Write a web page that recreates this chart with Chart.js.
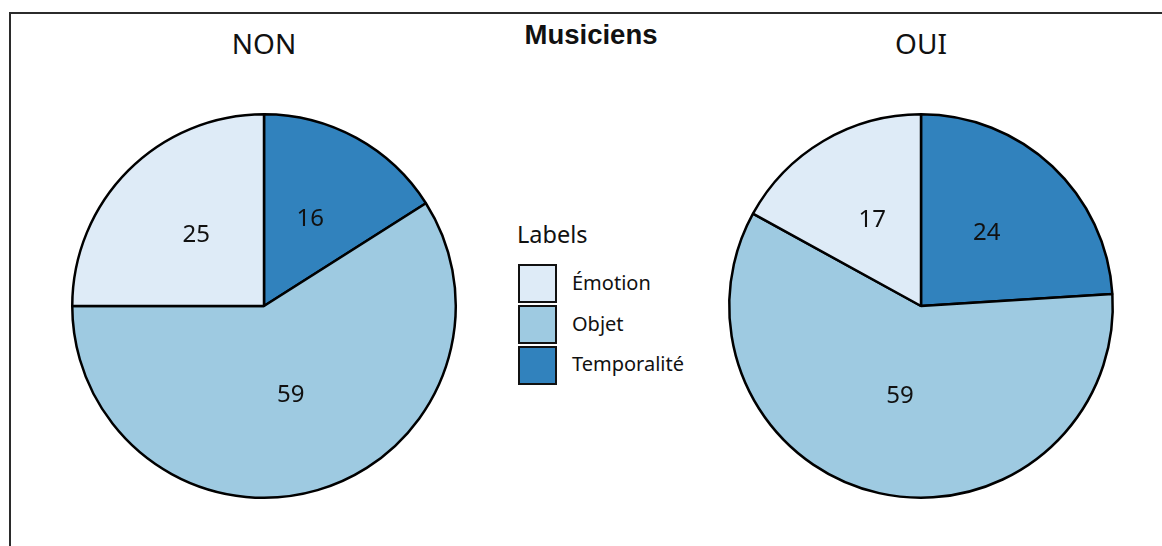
<!DOCTYPE html>
<html>
<head>
<meta charset="utf-8">
<script src="https://cdn.jsdelivr.net/npm/chart.js@4.4.1/dist/chart.umd.min.js"></script>
<style>
  html, body { margin:0; padding:0; background:#fff; width:1162px; height:546px; overflow:hidden; }
  #frame { position:absolute; left:9px; top:12px; width:1170px; height:560px; border-top:2px solid #2b2b2b; border-left:2px solid #2b2b2b; }
  .cv { position:absolute; }
  .txt { position:absolute; color:#111; font-family:"Noto Sans", sans-serif; white-space:nowrap; }
  #title { font-family:"Liberation Sans", Arial, sans-serif; font-weight:bold; font-size:27.5px; left:591px; top:35px; transform:translate(-50%,-50%); }
  .panel { font-size:28px; top:43px; transform:translate(-50%,-50%); }
  #legTitle { font-size:23.5px; left:517px; top:234px; transform:translateY(-50%); }
  .swatch { position:absolute; width:35px; height:35px; border:2.5px solid #111; }
  .legLab { font-size:20px; transform:translateY(-50%); }
</style>
</head>
<body>
<div id="frame"></div>
<div id="title" class="txt">Musiciens</div>
<canvas id="c0" class="cv"></canvas>
<canvas id="c1" class="cv"></canvas>
<div id="legend"></div>
<script>
// ---- data ----
const categories = ["Émotion", "Objet", "Temporalité"];
const panels = ["NON", "OUI"];
const valuesNON = [25, 59, 16];
const valuesOUI = [17, 59, 24];
const legendTitle = "Labels";
const colors = ["#DEEBF7", "#9ECAE1", "#3182BD"];

const panelValues = [valuesNON, valuesOUI];
const centersX = [264, 921];
const centerY = 306;
const R = 193;
const pad = 4;
const size = 2 * R + 2 * pad;

const labelPlugin = {
  id: 'sliceLabels',
  afterDatasetsDraw(chart) {
    const ctx = chart.ctx;
    const meta = chart.getDatasetMeta(0);
    const data = chart.data.datasets[0].data;
    ctx.save();
    ctx.font = '24px "Noto Sans", sans-serif';
    ctx.fillStyle = '#111';
    ctx.textAlign = 'center';
    ctx.textBaseline = 'middle';
    meta.data.forEach((arc, i) => {
      const p = arc.getCenterPoint();
      ctx.fillText(String(data[i]), p.x, p.y - 3);
    });
    ctx.restore();
  }
};

panels.forEach((name, k) => {
  const cv = document.getElementById('c' + k);
  cv.style.left = (centersX[k] - size / 2) + 'px';
  cv.style.top = (centerY - size / 2) + 'px';
  cv.style.width = size + 'px';
  cv.style.height = size + 'px';
  cv.width = size; cv.height = size;

  // drawn clockwise from the top: Temporalité, Objet, Émotion
  const order = categories.map((_, i) => i).reverse();
  new Chart(cv, {
    type: 'pie',
    data: {
      labels: order.map(i => categories[i]),
      datasets: [{
        data: order.map(i => panelValues[k][i]),
        backgroundColor: order.map(i => colors[i]),
        borderColor: '#000',
        borderWidth: 2.5
      }]
    },
    options: {
      responsive: false,
      animation: false,
      devicePixelRatio: 1,
      layout: { padding: pad },
      plugins: { legend: { display: false }, tooltip: { enabled: false }, title: { display: false } }
    },
    plugins: [labelPlugin]
  });

  const t = document.createElement('div');
  t.className = 'txt panel';
  t.style.left = centersX[k] + 'px';
  t.textContent = name;
  document.body.appendChild(t);
});

// legend
const leg = document.getElementById('legend');
const lt = document.createElement('div');
lt.id = 'legTitle'; lt.className = 'txt'; lt.textContent = legendTitle;
leg.appendChild(lt);
categories.forEach((c, i) => {
  const sw = document.createElement('div');
  sw.className = 'swatch';
  sw.style.left = '518px';
  sw.style.top = (264 + i * 41) + 'px';
  sw.style.background = colors[i];
  leg.appendChild(sw);
  const lb = document.createElement('div');
  lb.className = 'txt legLab';
  lb.style.left = '572px';
  lb.style.top = (282 + i * 40.5) + 'px';
  lb.textContent = c;
  leg.appendChild(lb);
});
</script>
</body>
</html>
